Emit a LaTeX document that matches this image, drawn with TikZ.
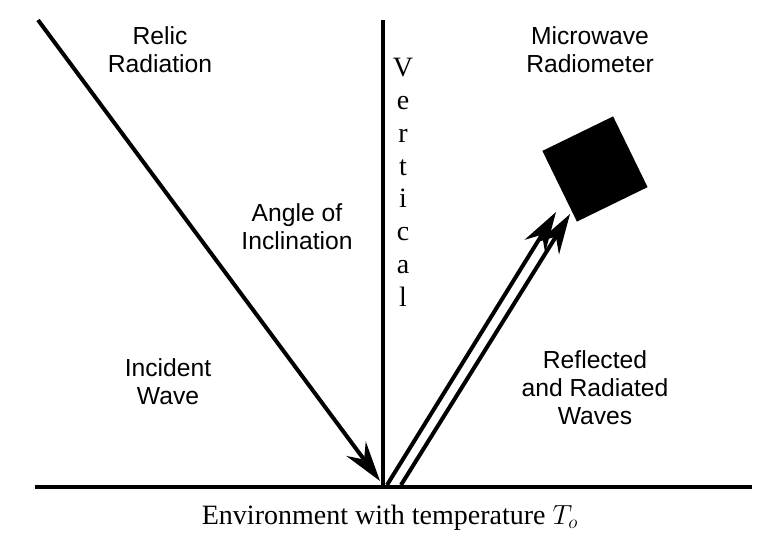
\documentclass[tikz,border=0pt]{standalone}
\usepackage{fontspec}
\newfontfamily\sansf{Liberation Sans}
\newfontfamily\serf{Liberation Serif}
\usetikzlibrary{arrows.meta}
\begin{document}
\begin{tikzpicture}[x=0.75pt,y=-0.75pt,
  lbl/.style={font=\sansf\fontsize{18.5}{21}\selectfont,align=center},
  ln/.style={line width=3pt},
  arr/.style={ln,-{Stealth[length=30pt,width=18pt,inset=10pt]}}]
\useasboundingbox (0,0) rectangle (778,547);
\coordinate (g1) at (35,487); \coordinate (g2) at (752,487);
\coordinate (vt) at (383,20); \coordinate (vb) at (383,487);
\coordinate (src) at (38,20); \coordinate (hit) at (380,481);
\coordinate (r1a) at (387,485); \coordinate (r1b) at (556,212);
\coordinate (r2a) at (401,485); \coordinate (r2b) at (570,214);
\draw[ln] (g1) -- (g2);
\draw[ln] (vt) -- (vb);
\draw[arr] (src) -- (hit);
\draw[arr] (r1a) -- (r1b);
\draw[arr] (r2a) -- (r2b);
\node[fill=black,minimum size=59pt,rotate=26,inner sep=0] (radio) at (595,169) {};
\node[lbl] (relic) at (160,50) {Relic\\Radiation};
\node[lbl] (micro) at (590,50) {Microwave\\Radiometer};
\node[lbl] (angle) at (297,227) {Angle of\\Inclination};
\node[lbl] (inc) at (168,382) {Incident\\Wave};
\node[lbl] (refl) at (595,388) {Reflected\\and Radiated\\Waves};
\node[font=\serf\fontsize{21}{24.6}\selectfont,align=center,anchor=north,inner sep=0] (vert) at (403,58) {V\\e\\r\\t\\i\\c\\a\\l};
\node[font=\serf\fontsize{21}{24}\selectfont] (env) at (390,518) {Environment with temperature $T_o$};
\end{tikzpicture}
\end{document}
